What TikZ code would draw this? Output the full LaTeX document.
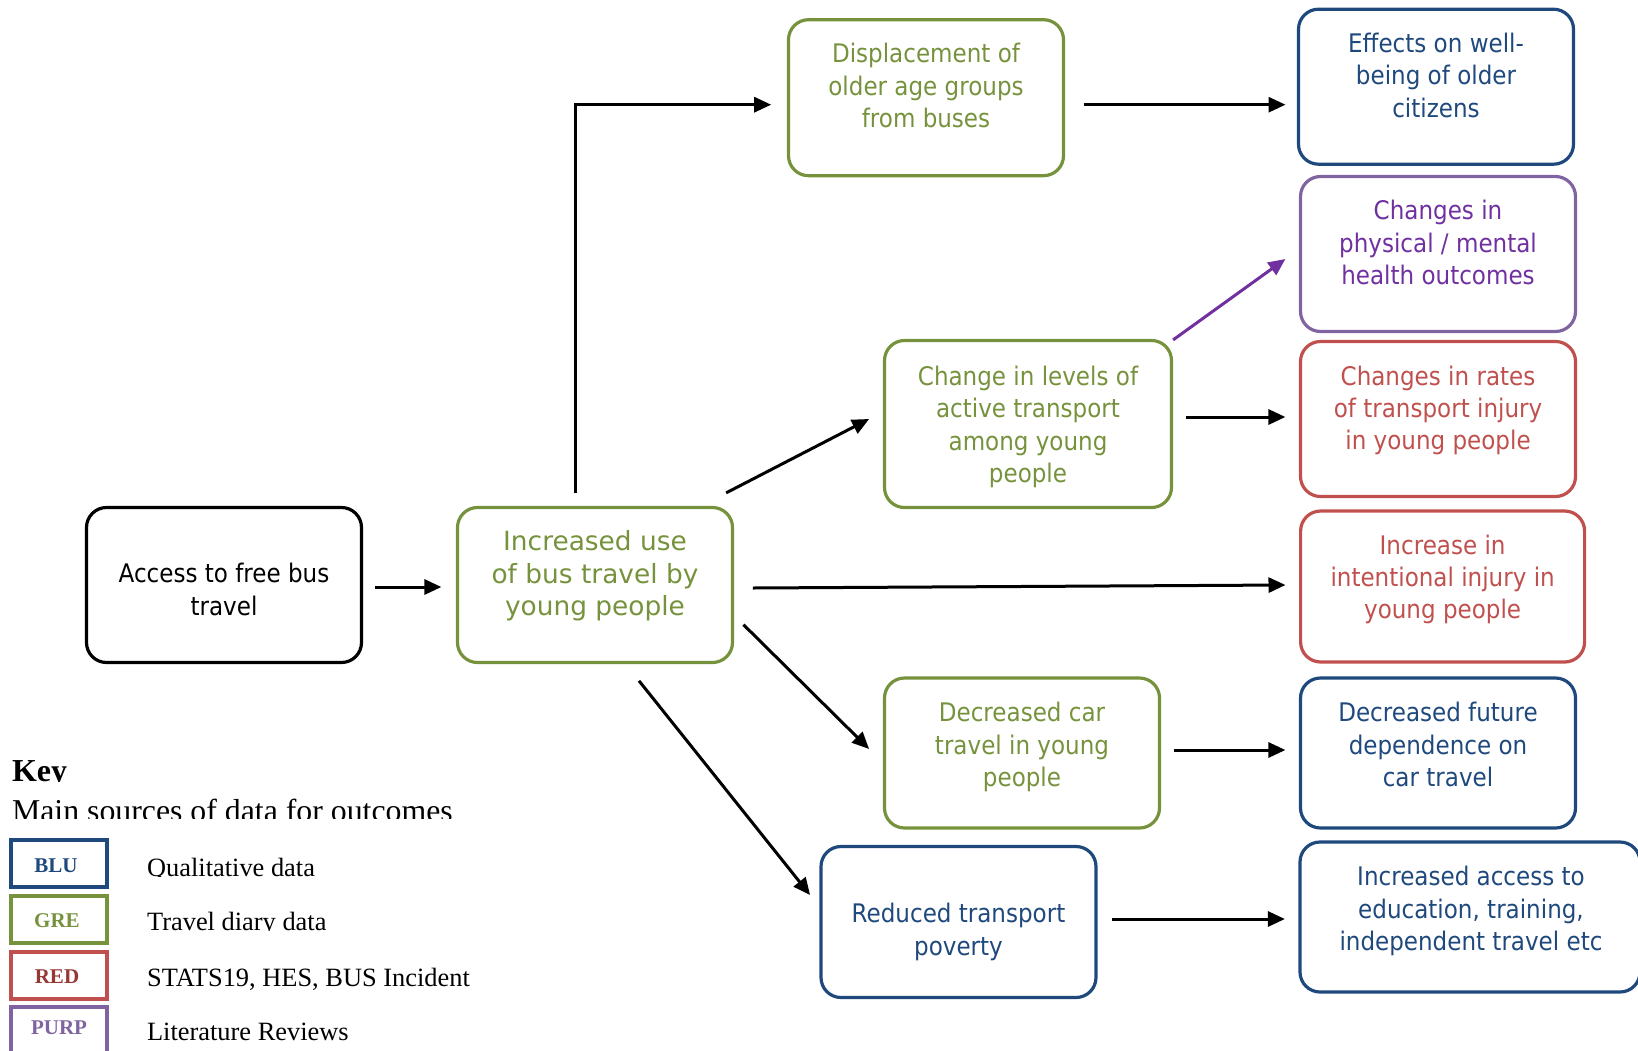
\documentclass[tikz,border=0pt]{standalone}
\usepackage{fontspec}
\setmainfont{Liberation Serif}
\newfontfamily\boxfont[FakeStretch=0.9]{DejaVu Sans}
\newfontfamily\verdfont{DejaVu Sans}
\usetikzlibrary{arrows.meta,calc}
\definecolor{cgreen}{RGB}{118,146,60}
\definecolor{cblue}{RGB}{31,73,125}
\definecolor{cred}{RGB}{192,80,77}
\definecolor{cdred}{RGB}{150,55,53}
\definecolor{cpurp}{RGB}{128,100,162}
\definecolor{cdpurp}{RGB}{112,48,160}
\begin{document}
\begin{tikzpicture}[x=0.5pt,y=-0.5pt,
  box/.style={draw, line width=1.6pt, rounded corners=10pt, minimum width=137.5pt, minimum height=77.5pt, inner sep=0pt},
  gbox/.style={box, draw=cgreen},
  bbox/.style={box, draw=cblue},
  rbox/.style={box, draw=cred},
  pbox/.style={box, draw=cpurp},
  kbox/.style={box, draw=black},
  btxt/.style={font=\boxfont\fontsize{12.8}{16.2}\selectfont, align=center, inner sep=0pt},
  arr/.style={line width=1.5pt, -{Triangle[length=8.5pt,width=7.5pt]}},
  legbox/.style={draw, line width=2pt, minimum width=48pt, minimum height=23.5pt, inner sep=0pt},
  legtag/.style={font=\bfseries\fontsize{10.5}{12}\selectfont, inner sep=0pt},
  legtxt/.style={font=\fontsize{13.2}{15}\selectfont, anchor=base west, inner sep=0pt},
]
\useasboundingbox (0,0) rectangle (1638,1050);

% boxes
\node[kbox] (acc) at (224,585) {};
\node[gbox] (inc) at (595,585) {};
\node[gbox, minimum height=78pt] (disp) at (926,97.7) {};
\node[gbox, minimum width=143.5pt, minimum height=83.5pt] (chg) at (1028,424) {};
\node[gbox, minimum height=75pt] (car) at (1022,753) {};
\node[bbox, minimum height=75.5pt] (pov) at (958.5,922) {};
\node[bbox] (eff) at (1436,86.7) {};
\node[pbox] (phys) at (1438,254) {};
\node[rbox] (rates) at (1438,419) {};
\node[rbox, minimum width=142pt, minimum height=75.5pt] (intj) at (1442.6,586.5) {};
\node[bbox, minimum height=75pt] (fut) at (1438,753) {};
\node[bbox, minimum width=170pt, minimum height=75pt] (edu) at (1470,917) {};

% texts
\node[btxt] (acc-t) at ($(acc)+(0,4.5)$) {Access to free bus\\travel};
\node[btxt, font=\verdfont\fontsize{13.2}{16.2}\selectfont, text=cgreen] (inc-t) at ($(inc)+(0,-9)$) {Increased use\\of bus travel by\\young people};
\node[btxt, text=cgreen] (disp-t) at ($(disp)+(0,-12)$) {Displacement of\\older age groups\\from buses};
\node[btxt, text=cgreen] (chg-t) at ($(chg)+(0,3)$) {Change in levels of\\active transport\\among young\\people};
\node[btxt, text=cgreen] (car-t) at ($(car)+(0,-6)$) {Decreased car\\travel in young\\people};
\node[btxt, text=cblue] (pov-t) at ($(pov)+(0,10)$) {Reduced transport\\poverty};
\node[btxt, text=cblue] (eff-t) at ($(eff)+(0,-11.5)$) {Effects on well-\\being of older\\citizens};
\node[btxt, text=cdpurp] (phys-t) at ($(phys)+(0,-11.5)$) {Changes in\\physical / mental\\health outcomes};
\node[btxt, text=cred] (rates-t) at ($(rates)+(0,-8.5)$) {Changes in rates\\of transport injury\\in young people};
\node[btxt, text=cred] (intj-t) at ($(intj)+(0,-7)$) {Increase in\\intentional injury in\\young people};
\node[btxt, text=cblue] (fut-t) at ($(fut)+(0,-8.5)$) {Decreased future\\dependence on\\car travel};
\node[btxt, text=cblue] (edu-t) at ($(edu)+(1,-6)$) {Increased access to\\education, training,\\independent travel etc};

% connectors
\draw[arr] ($(acc.east)+(11.6,2)$) -- ($(inc.west)+(-14.5,2)$);
\draw[arr] ($(inc.north)+(-19.4,-12.7)$) |- ($(disp.west)+(-15.7,7)$);
\draw[arr] ($(inc.north east)+(-8,-13)$) -- ($(chg.west)+(-13.8,-5)$);
\draw[arr] ($(inc.east)+(18.7,3)$) -- ($(intj.west)+(-13.5,-1.5)$);
\draw[arr] ($(inc.east)+(9.4,39.7)$) -- ($(car.west)+(-13.8,-4)$);
\draw[arr] ($(inc.south)+(44,16.7)$) -- ($(pov.west)+(-9.3,-27)$);
\draw[arr] ($(disp.east)+(18.6,7)$) -- ($(eff.west)+(-11.4,18)$);
\draw[arr, draw=cdpurp, fill=cdpurp] ($(chg.north east)+(0,1)$) -- ($(phys.west)+(-13.5,5)$);
\draw[arr] ($(chg.east)+(12.6,-7)$) -- ($(rates.west)+(-13.5,-2)$);
\draw[arr] ($(car.east)+(12.5,-3)$) -- ($(fut.west)+(-13.5,-3)$);
\draw[arr] ($(pov.east)+(14.2,-3)$) -- ($(edu.west)+(-13.5,2)$);

% legend
\begin{scope}
\clip (0,745) rectangle (700,781.7) (0,790) rectangle (700,818.3)
      (120,840) rectangle (700,876) (120,900) rectangle (700,930.7)
      (120,955) rectangle (700,990) (120,1010) rectangle (700,1040.5);
\node[anchor=base west, font=\bfseries\fontsize{16}{18}\selectfont, inner sep=0pt] (key) at (11.7,781.7) {Key};
\node[anchor=base west, font=\fontsize{15.9}{18}\selectfont, inner sep=0pt] (main) at (11.7,821) {Main sources of data for outcomes};
\node[legtxt] (l1) at (146.7,876) {Qualitative data};
\node[legtxt] (l2) at (146.7,930.7) {Travel diary data};
\node[legtxt] (l3) at (146.7,986) {STATS19, HES, BUS Incident};
\node[legtxt] (l4) at (146.7,1040) {Literature Reviews};
\end{scope}
\node[legbox, draw=cblue] (kb) at (58.5,863.5) {};
\node[legbox, draw=cgreen] (kg) at (58.5,919) {};
\node[legbox, draw=cred] (kr) at (58.5,975) {};
\node[legbox, draw=cpurp] (kp) at (58.5,1030) {};
\node[legtag, text=cblue] at (56,866) {BLU};
\node[legtag, text=cgreen] at (57,921) {GRE};
\node[legtag, text=cdred] at (57,977) {RED};
\node[legtag, text=cpurp] at (59,1028) {PURP};
\end{tikzpicture}
\end{document}
